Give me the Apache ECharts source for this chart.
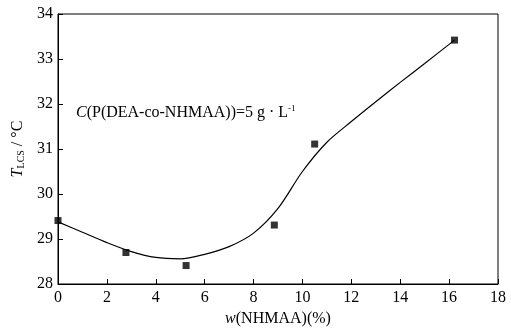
<!DOCTYPE html>
<html>
<head>
<meta charset="utf-8">
<script src="https://cdn.jsdelivr.net/npm/echarts@6/dist/echarts.min.js"></script>
<style>
  html, body { margin: 0; padding: 0; background: #fff; }
  #main { width: 511px; height: 328px; }
</style>
</head>
<body>
<div id="main"></div>
<script>
// 测量点
var pointX = [0, 2.78, 5.24, 8.85, 10.5, 16.22];
var pointY = [29.41, 28.70, 28.41, 29.31, 31.11, 33.42];
// 拟合曲线
var curveX = [0, 1, 2, 3, 4, 5, 6, 7, 8, 9, 10, 11, 12, 13, 14, 15, 16.22];
var curveY = [29.38, 29.15, 28.92, 28.72, 28.59, 28.56, 28.66, 28.83, 29.13, 29.68, 30.5, 31.15, 31.61, 32.05, 32.48, 32.9, 33.42];
var xTicks = [0, 18, 2];
var yTicks = [28, 34, 1];

var myChart = echarts.init(document.getElementById('main'));
var serif = '"Liberation Serif", "DejaVu Serif", serif';
var option = {
    backgroundColor: '#fff',
    animation: false,
    grid: {
        left: 58,
        right: 13,
        top: 14,
        bottom: 44,
        outerBoundsMode: 'none',
        containLabel: false,
        show: true,
        borderColor: '#000',
        borderWidth: 1
    },
    xAxis: {
        type: 'value',
        min: xTicks[0],
        max: xTicks[1],
        interval: xTicks[2],
        name: '{i|w}(NHMAA)(%)',
        nameLocation: 'middle',
        nameGap: 27,
        nameTextStyle: {
            color: '#000',
            fontFamily: serif,
            fontSize: 16,
            rich: {
                i: { fontStyle: 'italic', fontFamily: serif, fontSize: 16, color: '#000' }
            }
        },
        axisLine: { lineStyle: { color: '#000', width: 1 } },
        axisTick: { inside: true, length: 5, lineStyle: { color: '#000' } },
        axisLabel: { color: '#000', fontFamily: serif, fontSize: 16, margin: 6 },
        splitLine: { show: false }
    },
    yAxis: {
        type: 'value',
        min: yTicks[0],
        max: yTicks[1],
        interval: yTicks[2],
        name: '{i|T}{s|LCS} / °C',
        nameLocation: 'middle',
        nameGap: 27,
        nameTextStyle: {
            color: '#000',
            fontFamily: serif,
            fontSize: 16,
            rich: {
                i: { fontStyle: 'italic', fontFamily: serif, fontSize: 16, color: '#000' },
                s: { fontFamily: serif, fontSize: 10, color: '#000', verticalAlign: 'bottom', padding: [6, 0, 0, 0] }
            }
        },
        axisLine: { lineStyle: { color: '#000', width: 1 } },
        axisTick: { inside: true, length: 5, lineStyle: { color: '#000' } },
        axisLabel: { color: '#000', fontFamily: serif, fontSize: 16, margin: 5 },
        splitLine: { show: false }
    },
    graphic: [
        {
            type: 'text',
            left: 76,
            top: 104,
            style: {
                text: '{i|C}(P(DEA-co-NHMAA))=5 g · L{sup|-1}',
                fontFamily: serif,
                fontSize: 16,
                fill: '#000',
                rich: {
                    i: { fontStyle: 'italic', fontFamily: serif, fontSize: 16 },
                    sup: { fontFamily: serif, fontSize: 9, verticalAlign: 'top', padding: [0, 0, 8, 0] }
                }
            }
        }
    ],
    series: [
        {
            type: 'line',
            smooth: 0.3,
            symbol: 'none',
            data: curveX.map(function (x, i) { return [x, curveY[i]]; }),
            lineStyle: { color: '#000', width: 1.2 },
            z: 2
        },
        {
            type: 'scatter',
            symbol: 'rect',
            symbolSize: 7,
            data: pointX.map(function (x, i) { return [x, pointY[i]]; }),
            itemStyle: { color: '#000' },
            z: 3
        }
    ]
};
myChart.setOption(option);
</script>
</body>
</html>
